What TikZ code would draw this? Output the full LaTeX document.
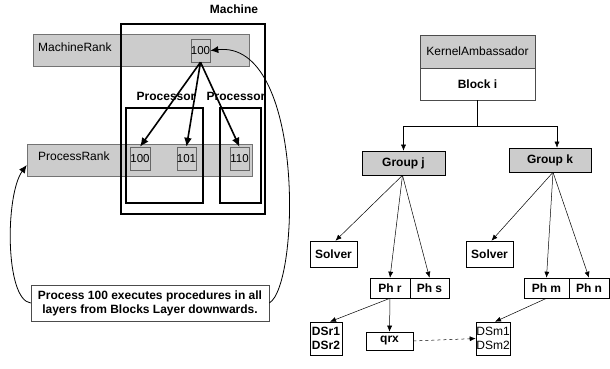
\documentclass[tikz,border=0pt]{standalone}
\usepackage{fontspec}
\setmainfont{Liberation Sans}
\usetikzlibrary{arrows.meta,calc}
\begin{document}
\begin{tikzpicture}[x=1pt,y=-1pt,
  band/.style={draw=black!55,fill=black!20,inner sep=0pt,line width=0.6pt},
  numbox/.style={draw=black!60,inner sep=0pt,minimum width=19pt,minimum height=23pt,font=\fontsize{11.5}{12}\selectfont},
  thickbox/.style={draw=black,line width=1.8pt,inner sep=0pt},
  lbl/.style={inner sep=0pt,font=\fontsize{12}{13}\selectfont},
  blbl/.style={inner sep=0pt,font=\fontsize{12}{13}\selectfont\bfseries},
  tbox/.style={draw=black,line width=0.6pt,inner sep=0pt,font=\fontsize{12}{13}\selectfont\bfseries},
  gbox/.style={tbox,fill=black!20},
  bigarr/.style={-{Latex[length=9pt,width=8pt]},line width=1.6pt},
  arr/.style={-{Latex[length=6pt,width=5pt]},line width=0.5pt},
  curvearr/.style={-{Latex[length=8pt,width=7pt]},line width=0.8pt}
]
\useasboundingbox (0,0) rectangle (610,369);

% ---------------- left part ----------------
\node[band,minimum width=216pt,minimum height=32pt] (mrank) at (141,50) {};
\node[band,minimum width=225pt,minimum height=32pt] (prank) at (139.5,160) {};
\node[lbl,anchor=west] (mranklbl) at (38,47) {MachineRank};
\node[lbl,anchor=west] (pranklbl) at (38,156) {ProcessRank};

\node[thickbox,minimum width=144pt,minimum height=190pt] (machine) at (193,119) {};
\node[blbl] (machinelbl) at (234,9) {Machine};
\node[thickbox,minimum width=77pt,minimum height=95pt] (proc1) at (164.5,155.5) {};
\node[thickbox,minimum width=41pt,minimum height=95pt] (proc2) at (240.5,155.5) {};
\node[blbl] (proc1lbl) at (166,96) {Processor};
\node[blbl] (proc2lbl) at (236,96) {Processor};

\node[numbox] (m100) at (200.5,50.5) {100};
\node[numbox,minimum width=20pt] (p100) at (140,158.5) {100};
\node[numbox] (p101) at (186.5,158.5) {101};
\node[numbox] (p110) at (239.5,158.5) {110};

\draw[bigarr] (m100.south) -- (p100.north);
\draw[bigarr] (m100.south) -- (p101.north);
\draw[bigarr] (m100.south) -- (p110.north);

\node[draw=black!70,line width=0.6pt,fill=white,minimum width=238pt,minimum height=36pt,inner sep=0pt,align=center,
  font=\fontsize{12}{14}\selectfont\bfseries] (note) at (150,303)
  {Process 100 executes procedures in all\\layers from Blocks Layer downwards.};

\coordinate (pin) at ($(prank.west)+(0,5)$);
\draw[curvearr] (note.east) .. controls (300,285) and (305,40) .. (m100.east);
\draw[curvearr] (note.west) .. controls (5,300) and (5,195) .. (pin);

% ---------------- right part ----------------
\node[draw=black!70,fill=black!20,line width=0.6pt,inner sep=0pt,minimum width=115pt,minimum height=33pt,
  font=\fontsize{12}{13}\selectfont] (ka) at (477.5,51.5) {KernelAmbassador};
\node[draw=black!70,line width=0.6pt,inner sep=0pt,minimum width=115pt,minimum height=32pt,
  font=\fontsize{12}{13}\selectfont\bfseries] (block) at (477.5,84) {Block i};

\node[gbox,minimum width=83pt,minimum height=24pt] (gj) at (403.5,163) {Group j};
\node[gbox,minimum width=82pt,minimum height=24pt] (gk) at (550,160) {Group k};

\draw[arr] (block.south) -- ++(0,26) -| (gj.north);
\draw[arr] (block.south) -- ++(0,26) -| ([xshift=7pt]gk.north);

\node[tbox,minimum width=47pt,minimum height=26pt] (solver1) at (333.5,254) {Solver};
\node[tbox,minimum width=40pt,minimum height=20pt] (phr) at (390,288) {Ph r};
\node[tbox,minimum width=39pt,minimum height=20pt] (phs) at (429.5,288) {Ph s};
\node[tbox,minimum width=47pt,minimum height=26pt] (solver2) at (489.5,254) {Solver};
\node[tbox,minimum width=45pt,minimum height=20pt] (phm) at (546.5,288) {Ph m};
\node[tbox,minimum width=40pt,minimum height=20pt] (phn) at (589,288) {Ph n};

\node[tbox,minimum width=32pt,minimum height=33pt,align=center,font=\fontsize{12}{14}\selectfont\bfseries] (dsr) at (326,338.5) {DSr1\\DSr2};
\node[tbox,minimum width=47pt,minimum height=18pt] (qrx) at (389.5,341) {qrx};
\node[tbox,minimum width=34pt,minimum height=33pt,align=center,font=\fontsize{12}{14}\selectfont] (dsm) at (493,338.5) {DSm1\\DSm2};

\draw[arr] ([xshift=-1pt]gj.south) -- ([xshift=2pt]solver1.north);
\draw[arr] ([xshift=-1pt]gj.south) -- (phr.north);
\draw[arr] ([xshift=-1pt]gj.south) -- (phs.north);
\draw[arr] ([xshift=3pt]gk.south) -- ([xshift=2pt]solver2.north);
\draw[arr] ([xshift=3pt]gk.south) -- (phm.north);
\draw[arr] ([xshift=3pt]gk.south) -- (phn.north);

\draw[arr] (phr.south) -- ([xshift=4pt]dsr.north);
\draw[arr] (phr.south) -- (qrx.north);
\draw[arr] (phm.south) -- ([xshift=2pt]dsm.north);
\draw[arr,dashed] (qrx.east) -- (dsm.west);
\end{tikzpicture}
\end{document}
